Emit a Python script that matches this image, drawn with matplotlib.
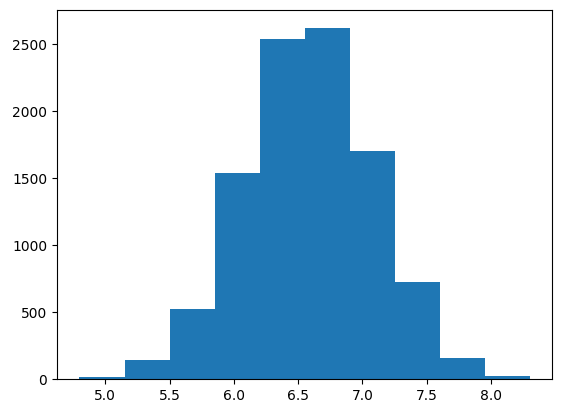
import matplotlib.pyplot as plt
import numpy as np

# histogram: 10 bins between 4.8 and 8.3
bin_edges = np.linspace(4.8, 8.3, 11)
counts = [15, 141, 521, 1541, 2539, 2621, 1705, 722, 156, 22]

fig = plt.figure(figsize=(5.61, 4.13), dpi=100)
ax = fig.add_subplot(111)
fig.subplots_adjust(left=0.1016, right=0.984, bottom=0.0823, top=0.975)

ax.hist(bin_edges[:-1], bins=bin_edges, weights=counts)

fig.savefig("out.png", dpi=100)
